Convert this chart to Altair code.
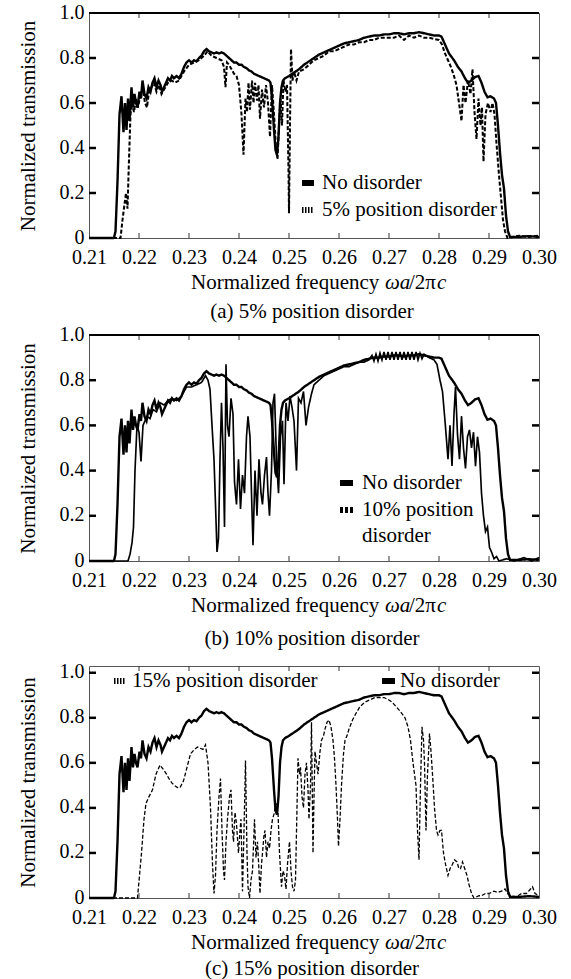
import altair as alt
import pandas as pd

FONT = "Liberation Serif"

X_TICKS = [0.21, 0.22, 0.23, 0.24, 0.25, 0.26, 0.27, 0.28, 0.29, 0.30]
Y_TICKS = [0, 0.2, 0.4, 0.6, 0.8, 1.0]

# ---- No disorder (same curve in all panels) ----
ND_F = [0.2100, 0.2150, 0.2153, 0.2157, 0.2161, 0.2165, 0.2169, 0.2172, 0.2175, 0.2178,
        0.2181, 0.2185, 0.2188, 0.2191, 0.2194, 0.2197, 0.2201, 0.2204, 0.2207, 0.2211,
        0.2215, 0.2219, 0.2223, 0.2227, 0.2231, 0.2235, 0.2239, 0.2243, 0.2246, 0.2250,
        0.2254, 0.2258, 0.2262, 0.2266, 0.2270, 0.2275, 0.2280, 0.2285, 0.2290, 0.2295,
        0.2300, 0.2305, 0.2310, 0.2315, 0.2320, 0.2325, 0.2330, 0.2335, 0.2340, 0.2345,
        0.2350, 0.2355, 0.2360, 0.2365, 0.2370, 0.2375, 0.2380, 0.2385, 0.2390, 0.2395,
        0.2400, 0.2405, 0.2410, 0.2415, 0.2420, 0.2425, 0.2430, 0.2435, 0.2440, 0.2445,
        0.2450, 0.2455, 0.2460, 0.2463, 0.2466, 0.2470, 0.2473, 0.2476, 0.2479, 0.2482,
        0.2485, 0.2488, 0.2492, 0.2500, 0.2510, 0.2520, 0.2530, 0.2540, 0.2550, 0.2560,
        0.2570, 0.2580, 0.2590, 0.2600, 0.2610, 0.2620, 0.2630, 0.2640, 0.2650, 0.2660,
        0.2670, 0.2680, 0.2690, 0.2700, 0.2710, 0.2720, 0.2730, 0.2740, 0.2750, 0.2760,
        0.2770, 0.2780, 0.2790, 0.2800, 0.2805, 0.2812, 0.2820, 0.2830, 0.2838, 0.2845,
        0.2852, 0.2858, 0.2865, 0.2872, 0.2879, 0.2885, 0.2891, 0.2897, 0.2903, 0.2910,
        0.2914, 0.2918, 0.2922, 0.2926, 0.2930, 0.2934, 0.2938, 0.2942, 0.2960, 0.2980,
        0.3000]
ND_T = [0.000, 0.000, 0.030, 0.250, 0.550, 0.630, 0.470, 0.600, 0.480, 0.620,
        0.520, 0.670, 0.580, 0.640, 0.600, 0.580, 0.650, 0.620, 0.700, 0.640,
        0.620, 0.670, 0.650, 0.690, 0.710, 0.670, 0.700, 0.680, 0.650, 0.670,
        0.690, 0.710, 0.700, 0.720, 0.710, 0.720, 0.710, 0.730, 0.760, 0.780,
        0.790, 0.780, 0.790, 0.785, 0.800, 0.810, 0.830, 0.840, 0.830, 0.825,
        0.820, 0.825, 0.820, 0.825, 0.820, 0.810, 0.800, 0.790, 0.780, 0.780,
        0.770, 0.770, 0.760, 0.755, 0.745, 0.740, 0.730, 0.725, 0.720, 0.715,
        0.710, 0.705, 0.700, 0.690, 0.620, 0.480, 0.390, 0.370, 0.450, 0.600,
        0.670, 0.700, 0.710, 0.720, 0.735, 0.750, 0.770, 0.785, 0.800, 0.815,
        0.825, 0.835, 0.845, 0.855, 0.865, 0.870, 0.875, 0.880, 0.890, 0.895,
        0.900, 0.900, 0.905, 0.905, 0.910, 0.910, 0.905, 0.910, 0.910, 0.915,
        0.910, 0.905, 0.900, 0.900, 0.895, 0.860, 0.820, 0.790, 0.760, 0.740,
        0.710, 0.690, 0.700, 0.715, 0.720, 0.690, 0.650, 0.625, 0.630, 0.620,
        0.600, 0.500, 0.380, 0.280, 0.220, 0.100, 0.030, 0.005, 0.005, 0.008,
        0.005]

# ---- 5% position disorder ----
D5_F = [0.2100, 0.2163, 0.2167, 0.2171, 0.2174, 0.2177, 0.2180, 0.2183, 0.2186, 0.2190,
        0.2194, 0.2198, 0.2203, 0.2208, 0.2212, 0.2216, 0.2220, 0.2225, 0.2230, 0.2235,
        0.2240, 0.2245, 0.2250, 0.2258, 0.2265, 0.2272, 0.2280, 0.2290, 0.2300, 0.2310,
        0.2320, 0.2330, 0.2337, 0.2345, 0.2355, 0.2365, 0.2370, 0.2373, 0.2376, 0.2380,
        0.2385, 0.2390, 0.2395, 0.2400, 0.2405, 0.2409, 0.2413, 0.2416, 0.2419, 0.2422,
        0.2426, 0.2429, 0.2432, 0.2436, 0.2439, 0.2442, 0.2446, 0.2450, 0.2454, 0.2458,
        0.2462, 0.2466, 0.2470, 0.2474, 0.2477, 0.2480, 0.2483, 0.2486, 0.2489, 0.2493,
        0.2496, 0.2499, 0.2500, 0.2502, 0.2504, 0.2507, 0.2510, 0.2515, 0.2520, 0.2530,
        0.2540, 0.2550, 0.2560, 0.2570, 0.2580, 0.2590, 0.2600, 0.2610, 0.2620, 0.2630,
        0.2640, 0.2650, 0.2660, 0.2670, 0.2680, 0.2690, 0.2700, 0.2710, 0.2720, 0.2730,
        0.2740, 0.2750, 0.2760, 0.2770, 0.2780, 0.2790, 0.2800, 0.2806, 0.2812, 0.2818,
        0.2824, 0.2830, 0.2835, 0.2840, 0.2845, 0.2849, 0.2853, 0.2858, 0.2863, 0.2867,
        0.2871, 0.2875, 0.2879, 0.2883, 0.2886, 0.2889, 0.2893, 0.2898, 0.2903, 0.2907,
        0.2911, 0.2915, 0.2920, 0.2924, 0.2928, 0.2932, 0.2937, 0.2960, 0.2980, 0.3000]
D5_T = [0.000, 0.000, 0.080, 0.150, 0.200, 0.130, 0.350, 0.550, 0.600, 0.560,
        0.620, 0.580, 0.640, 0.660, 0.600, 0.580, 0.650, 0.670, 0.690, 0.650,
        0.680, 0.640, 0.660, 0.690, 0.700, 0.690, 0.700, 0.740, 0.770, 0.780,
        0.790, 0.810, 0.830, 0.810, 0.800, 0.790, 0.760, 0.670, 0.780, 0.770,
        0.750, 0.730, 0.720, 0.680, 0.550, 0.370, 0.620, 0.560, 0.690, 0.570,
        0.700, 0.600, 0.690, 0.610, 0.680, 0.530, 0.660, 0.580, 0.680, 0.600,
        0.450, 0.680, 0.550, 0.400, 0.350, 0.500, 0.620, 0.500, 0.700, 0.650,
        0.680, 0.300, 0.110, 0.500, 0.840, 0.700, 0.740, 0.700, 0.740, 0.750,
        0.770, 0.790, 0.800, 0.810, 0.830, 0.830, 0.840, 0.850, 0.860, 0.860,
        0.870, 0.870, 0.880, 0.880, 0.890, 0.890, 0.890, 0.890, 0.900, 0.880,
        0.900, 0.890, 0.900, 0.890, 0.890, 0.885, 0.880, 0.860, 0.820, 0.790,
        0.760, 0.720, 0.680, 0.600, 0.520, 0.680, 0.600, 0.700, 0.640, 0.750,
        0.560, 0.440, 0.620, 0.500, 0.580, 0.340, 0.550, 0.600, 0.560, 0.600,
        0.550, 0.420, 0.280, 0.180, 0.080, 0.030, 0.000, 0.010, 0.005, 0.010]

# ---- 10% position disorder ----
D10_F = [0.2100, 0.2178, 0.2182, 0.2186, 0.2189, 0.2192, 0.2196, 0.2200, 0.2204, 0.2208,
         0.2212, 0.2216, 0.2222, 0.2228, 0.2235, 0.2242, 0.2250, 0.2258, 0.2266, 0.2275,
         0.2285, 0.2295, 0.2305, 0.2315, 0.2325, 0.2333, 0.2338, 0.2342, 0.2346, 0.2350,
         0.2353, 0.2356, 0.2359, 0.2362, 0.2365, 0.2368, 0.2371, 0.2374, 0.2377, 0.2380,
         0.2384, 0.2388, 0.2391, 0.2395, 0.2399, 0.2403, 0.2407, 0.2411, 0.2415, 0.2418,
         0.2422, 0.2425, 0.2428, 0.2432, 0.2436, 0.2440, 0.2444, 0.2447, 0.2451, 0.2455,
         0.2458, 0.2461, 0.2465, 0.2468, 0.2471, 0.2475, 0.2479, 0.2483, 0.2487, 0.2490,
         0.2494, 0.2498, 0.2502, 0.2506, 0.2510, 0.2515, 0.2519, 0.2524, 0.2529, 0.2534,
         0.2539, 0.2545, 0.2550, 0.2560, 0.2570, 0.2580, 0.2590, 0.2600, 0.2610, 0.2620,
         0.2630, 0.2640, 0.2650, 0.2660, 0.2666, 0.2670, 0.2674, 0.2678, 0.2682, 0.2686,
         0.2690, 0.2694, 0.2698, 0.2702, 0.2706, 0.2710, 0.2714, 0.2718, 0.2722, 0.2726,
         0.2730, 0.2734, 0.2738, 0.2742, 0.2746, 0.2750, 0.2754, 0.2758, 0.2762, 0.2766,
         0.2770, 0.2780, 0.2790, 0.2796, 0.2802, 0.2807, 0.2812, 0.2818, 0.2822, 0.2826,
         0.2830, 0.2833, 0.2837, 0.2841, 0.2845, 0.2849, 0.2853, 0.2857, 0.2861, 0.2865,
         0.2869, 0.2873, 0.2877, 0.2881, 0.2885, 0.2889, 0.2893, 0.2897, 0.2901, 0.2905,
         0.2910, 0.2915, 0.2920, 0.2935, 0.2950, 0.2970, 0.2985, 0.3000]
D10_T = [0.000, 0.000, 0.030, 0.080, 0.150, 0.400, 0.600, 0.570, 0.440, 0.600,
         0.620, 0.640, 0.630, 0.670, 0.660, 0.700, 0.690, 0.710, 0.720, 0.710,
         0.730, 0.770, 0.770, 0.780, 0.790, 0.820, 0.800, 0.760, 0.600, 0.450,
         0.250, 0.040, 0.100, 0.450, 0.700, 0.500, 0.150, 0.870, 0.600, 0.550,
         0.720, 0.650, 0.350, 0.250, 0.450, 0.230, 0.380, 0.300, 0.550, 0.640,
         0.550, 0.300, 0.070, 0.400, 0.200, 0.450, 0.300, 0.250, 0.380, 0.460,
         0.300, 0.200, 0.400, 0.700, 0.740, 0.450, 0.300, 0.550, 0.620, 0.340,
         0.700, 0.620, 0.730, 0.680, 0.620, 0.400, 0.720, 0.700, 0.750, 0.600,
         0.680, 0.740, 0.780, 0.800, 0.820, 0.830, 0.840, 0.850, 0.860, 0.860,
         0.870, 0.880, 0.880, 0.890, 0.910, 0.885, 0.915, 0.885, 0.920, 0.890,
         0.925, 0.890, 0.925, 0.890, 0.925, 0.890, 0.925, 0.890, 0.925, 0.890,
         0.925, 0.890, 0.925, 0.890, 0.925, 0.890, 0.925, 0.890, 0.920, 0.895,
         0.915, 0.900, 0.890, 0.870, 0.800, 0.750, 0.620, 0.450, 0.600, 0.420,
         0.650, 0.770, 0.560, 0.450, 0.640, 0.500, 0.410, 0.550, 0.580, 0.500,
         0.570, 0.420, 0.550, 0.480, 0.300, 0.200, 0.130, 0.150, 0.060, 0.040,
         0.010, 0.020, 0.000, 0.010, 0.000, 0.015, 0.000, 0.015]

# ---- 15% position disorder ----
D15_F = [0.2100, 0.2197, 0.2201, 0.2205, 0.2210, 0.2214, 0.2220, 0.2227, 0.2234, 0.2242,
         0.2249, 0.2255, 0.2260, 0.2266, 0.2271, 0.2277, 0.2282, 0.2289, 0.2296, 0.2303,
         0.2311, 0.2317, 0.2322, 0.2328, 0.2333, 0.2338, 0.2343, 0.2347, 0.2350, 0.2353,
         0.2356, 0.2360, 0.2363, 0.2366, 0.2369, 0.2371, 0.2374, 0.2377, 0.2381, 0.2384,
         0.2387, 0.2389, 0.2392, 0.2395, 0.2399, 0.2402, 0.2404, 0.2407, 0.2410, 0.2413,
         0.2416, 0.2418, 0.2421, 0.2424, 0.2427, 0.2431, 0.2434, 0.2437, 0.2440, 0.2442,
         0.2445, 0.2447, 0.2450, 0.2452, 0.2455, 0.2458, 0.2461, 0.2464, 0.2467, 0.2471,
         0.2474, 0.2478, 0.2481, 0.2485, 0.2488, 0.2491, 0.2494, 0.2497, 0.2501, 0.2504,
         0.2507, 0.2510, 0.2513, 0.2516, 0.2518, 0.2521, 0.2523, 0.2526, 0.2529, 0.2532,
         0.2535, 0.2538, 0.2540, 0.2543, 0.2545, 0.2548, 0.2550, 0.2552, 0.2555, 0.2558,
         0.2562, 0.2565, 0.2569, 0.2572, 0.2576, 0.2580, 0.2584, 0.2588, 0.2591, 0.2594,
         0.2597, 0.2599, 0.2602, 0.2605, 0.2609, 0.2612, 0.2616, 0.2620, 0.2627, 0.2634,
         0.2642, 0.2652, 0.2662, 0.2672, 0.2681, 0.2690, 0.2699, 0.2706, 0.2714, 0.2722,
         0.2732, 0.2738, 0.2743, 0.2748, 0.2754, 0.2757, 0.2760, 0.2763, 0.2766, 0.2769,
         0.2771, 0.2774, 0.2777, 0.2781, 0.2784, 0.2787, 0.2791, 0.2795, 0.2798, 0.2802,
         0.2805, 0.2809, 0.2813, 0.2818, 0.2822, 0.2827, 0.2831, 0.2836, 0.2840, 0.2843,
         0.2847, 0.2850, 0.2856, 0.2860, 0.2865, 0.2870, 0.2880, 0.2885, 0.2893, 0.2900,
         0.2910, 0.2917, 0.2925, 0.2932, 0.2937, 0.2943, 0.2955, 0.2965, 0.2975, 0.2983,
         0.2987, 0.2992, 0.3000]
D15_T = [0.000, 0.000, 0.100, 0.200, 0.350, 0.420, 0.450, 0.480, 0.550, 0.590,
         0.570, 0.550, 0.530, 0.510, 0.500, 0.490, 0.490, 0.520, 0.580, 0.640,
         0.660, 0.670, 0.665, 0.660, 0.680, 0.600, 0.400, 0.150, 0.020, 0.100,
         0.300, 0.450, 0.530, 0.300, 0.120, 0.080, 0.250, 0.350, 0.450, 0.480,
         0.300, 0.250, 0.380, 0.330, 0.200, 0.300, 0.350, 0.030, 0.300, 0.610,
         0.200, 0.050, 0.000, 0.080, 0.120, 0.350, 0.180, 0.250, 0.120, 0.020,
         0.150, 0.200, 0.280, 0.300, 0.180, 0.250, 0.220, 0.300, 0.350, 0.380,
         0.420, 0.380, 0.200, 0.050, 0.120, 0.100, 0.040, 0.150, 0.250, 0.120,
         0.050, 0.030, 0.080, 0.400, 0.620, 0.550, 0.580, 0.450, 0.400, 0.550,
         0.600, 0.480, 0.350, 0.500, 0.780, 0.200, 0.450, 0.650, 0.600, 0.550,
         0.650, 0.700, 0.720, 0.750, 0.780, 0.790, 0.760, 0.700, 0.620, 0.500,
         0.350, 0.230, 0.350, 0.500, 0.640, 0.700, 0.720, 0.750, 0.790, 0.820,
         0.850, 0.870, 0.880, 0.890, 0.890, 0.890, 0.880, 0.870, 0.850, 0.830,
         0.800, 0.760, 0.700, 0.600, 0.500, 0.300, 0.170, 0.500, 0.760, 0.700,
         0.600, 0.300, 0.550, 0.730, 0.650, 0.550, 0.400, 0.300, 0.280, 0.300,
         0.300, 0.200, 0.150, 0.100, 0.130, 0.150, 0.170, 0.160, 0.130, 0.130,
         0.160, 0.140, 0.100, 0.060, 0.020, 0.000, 0.010, 0.010, 0.020, 0.020,
         0.030, 0.025, 0.030, 0.040, 0.020, 0.010, 0.005, 0.020, 0.020, 0.040,
         0.050, 0.020, 0.010]

W = 450


def series_df(fs, ts, name):
    return pd.DataFrame({"f": fs, "t": ts, "series": name})


def text_layer(txt, px, py, size=21, style="normal", align="left"):
    return alt.Chart(pd.DataFrame({"s": [txt]})).mark_text(
        align=align, baseline="middle", font=FONT, fontSize=size,
        fontStyle=style, color="black"
    ).encode(x=alt.value(px), y=alt.value(py), text="s:N")


def symbol_layer(x0, x1, py, dash):
    return alt.Chart(pd.DataFrame({"s": [0]})).mark_rule(
        color="black", strokeWidth=6, strokeDash=dash, strokeCap="butt"
    ).encode(x=alt.value(x0), x2=alt.value(x1), y=alt.value(py))


def panel(dis_f, dis_t, dis_name, dash, H, ymax, yticks_in, legend, caption, cap_dy, top_rule):
    df = pd.concat([series_df(ND_F, ND_T, "No disorder"),
                    series_df(dis_f, dis_t, dis_name)], ignore_index=True)
    xscale = alt.Scale(domain=[0.21, 0.30], nice=False, zero=False)
    yscale = alt.Scale(domain=[0, ymax], nice=False, zero=True)
    xaxis = alt.Axis(
        values=X_TICKS, format=".2f", labelFont=FONT, labelFontSize=20,
        labelColor="black", labelPadding=9, labelFlush=False, labelOverlap=False,
        ticks=False, tickSize=0, domain=False, grid=False, title=None)
    yaxis = alt.Axis(
        values=Y_TICKS, labelExpr="datum.value == 0 ? '0' : format(datum.value, '.1f')",
        labelFont=FONT, labelFontSize=20, labelColor="black", labelPadding=5,
        labelOverlap=False, labelFlush=False, labelOffset=-1,
        ticks=False, tickSize=0, domain=False, grid=False,
        title="Normalized transmission", titleFont=FONT, titleFontSize=21,
        titleFontWeight="normal", titleColor="black", titlePadding=21)
    names = ["No disorder", dis_name]
    lines = alt.Chart(df).mark_line(color="black").encode(
        x=alt.X("f:Q", scale=xscale, axis=xaxis),
        y=alt.Y("t:Q", scale=yscale, axis=yaxis),
        detail="series:N",
        strokeDash=alt.StrokeDash("series:N", scale=alt.Scale(domain=names, range=[[1, 0], dash]), legend=None),
        strokeWidth=alt.StrokeWidth("series:N", scale=alt.Scale(domain=names, range=[2.4, 1.3]), legend=None),
    )
    xt = pd.DataFrame({"f": X_TICKS[1:-1]})
    yt = pd.DataFrame({"t": yticks_in})
    bt = alt.Chart(xt).mark_rule(color="#333", strokeWidth=1).encode(
        x=alt.X("f:Q", scale=xscale, axis=xaxis), y=alt.value(H), y2=alt.value(H - 5))
    tt = alt.Chart(xt).mark_rule(color="#333", strokeWidth=1).encode(
        x=alt.X("f:Q", scale=xscale, axis=xaxis), y=alt.value(0), y2=alt.value(5))
    lt = alt.Chart(yt).mark_rule(color="black", strokeWidth=2.5).encode(
        y=alt.Y("t:Q", scale=yscale, axis=yaxis), x=alt.value(0), x2=alt.value(7))
    rt = alt.Chart(yt).mark_rule(color="black", strokeWidth=2.5).encode(
        y=alt.Y("t:Q", scale=yscale, axis=yaxis), x=alt.value(W - 7), x2=alt.value(W))
    layers = [lines, bt, tt, lt, rt]
    if top_rule:
        layers.append(alt.Chart(pd.DataFrame({"s": [0]})).mark_rule(color="black", strokeWidth=2).encode(
            x=alt.value(0), x2=alt.value(W), y=alt.value(0)))
    for item in legend:
        if item[0] == "sym":
            layers.append(symbol_layer(item[1], item[2], item[3], item[4]))
        else:
            layers.append(text_layer(item[1], item[2], item[3]))
    # x-axis title with italic parts
    ty = H + 45
    layers.append(text_layer("Normalized frequency", 102, ty))
    layers.append(text_layer("ωa", 296, ty, style="italic"))
    layers.append(text_layer("/2π", 320, ty))
    layers.append(text_layer("c", 348, ty, style="italic"))
    layers.append(text_layer(caption, 223, H + cap_dy, align="center"))
    return alt.layer(*layers).properties(width=W, height=H)


leg_a = [
    ("sym", 213, 225, 170, [1, 0]), ("txt", "No disorder", 233, 170),
    ("sym", 213, 225, 197, [1.5, 1.5]), ("txt", "5% position disorder", 233, 197),
]
leg_b = [
    ("sym", 251, 264, 148, [1, 0]), ("txt", "No disorder", 273, 148),
    ("sym", 251, 264, 175, [3, 2]), ("txt", "10% position", 273, 175),
    ("txt", "disorder", 273, 201),
]
leg_c = [
    ("sym", 25, 36, 15, [1.5, 1.5]), ("txt", "15% position disorder", 43, 15),
    ("sym", 293, 306, 15, [1, 0]), ("txt", "No disorder", 311, 15),
]

A = panel(D5_F, D5_T, "5% position disorder", [4, 2], 225, 1.0, [0.2, 0.4, 0.6, 0.8],
          leg_a, "(a) 5% position disorder", 74, True)
B = panel(D10_F, D10_T, "10% position disorder", [7, 3], 226, 1.0, [0.2, 0.4, 0.6, 0.8],
          leg_b, "(b) 10% position disorder", 78, True)
C = panel(D15_F, D15_T, "15% position disorder", [7, 3, 2, 3], 232, 1.03, [0.2, 0.4, 0.6, 0.8, 1.0],
          leg_c, "(c) 15% position disorder", 71, False)

chart = alt.vconcat(A, alt.vconcat(B, C, spacing=11), spacing=0).properties(
    padding={"left": 16, "top": 1, "right": 0, "bottom": 0}
).configure_view(stroke="#555", strokeWidth=1)

chart.save("out.html", embed_options={"renderer": "svg", "actions": False})
